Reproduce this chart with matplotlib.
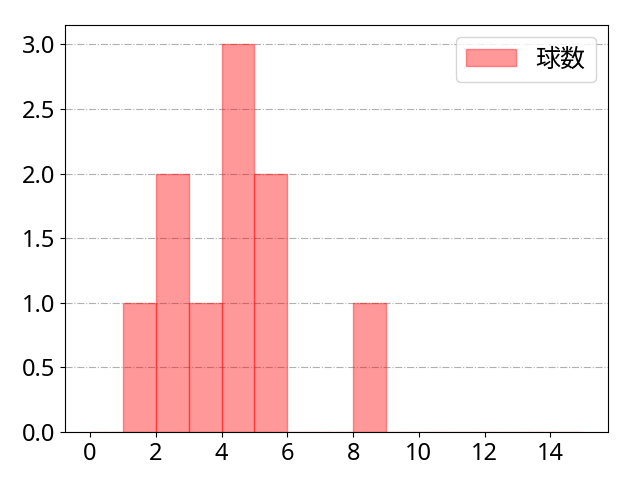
import numpy as np
import matplotlib.pyplot as plt

plt.rcParams['font.family'] = ['Noto Sans', 'Noto Sans CJK JP', 'DejaVu Sans']
plt.rcParams['font.size'] = 17

# 球数ごとの出現回数
pitch_values = [1, 2, 2, 3, 4, 4, 4, 5, 5, 8]
bins = list(range(0, 16))

fig, ax = plt.subplots(figsize=(6.4, 4.8), dpi=100)
ax.hist(pitch_values, bins=bins, color='red', alpha=0.4, edgecolor='red', label='球数')
ax.grid(axis='y', linestyle='-.', color='#b0b0b0')
ax.set_axisbelow(True)
ax.set_xticks(range(0, 16, 2))
ax.legend(loc='upper right', fontsize=18)
fig.subplots_adjust(left=0.102, right=0.95, top=0.948, bottom=0.1)
fig.savefig('out.png')
